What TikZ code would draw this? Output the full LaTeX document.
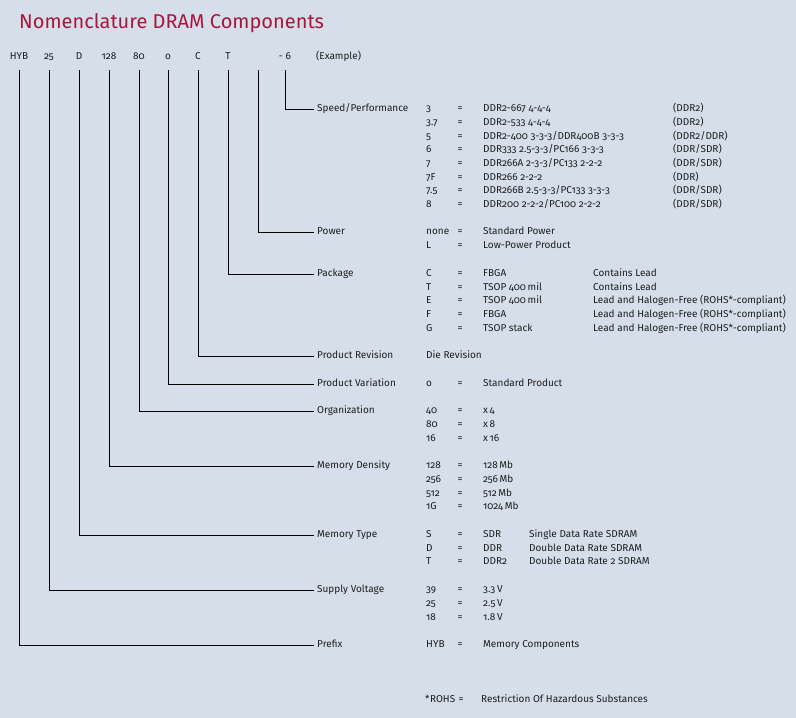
\documentclass[tikz,border=0pt]{standalone}
\usepackage{fontspec}
\setmainfont{Fira Sans}[Numbers=OldStyle]
\definecolor{bgc}{HTML}{D6DEEA}
\definecolor{titlec}{HTML}{A8163F}
\definecolor{txtc}{HTML}{1E1E1E}
\tikzset{
  tx/.style={anchor=west, inner sep=0pt, text height=7pt, text depth=3pt, font=\fontsize{10}{12}\selectfont, text=txtc},
  eq/.style={anchor=center, inner sep=0pt, text height=7pt, text depth=3pt, font=\fontsize{10}{12}\selectfont, text=txtc},
  lbl/.style={tx, inner xsep=3pt},
  code/.style={anchor=center, inner sep=0pt, text height=7pt, text depth=3pt, font=\fontsize{10}{12}\selectfont, text=txtc},
  conn/.style={draw=black, line width=0.9pt, shorten <=8pt}
}
\begin{document}
\begin{tikzpicture}[x=1pt,y=-1pt]
\path[fill=bgc,use as bounding box] (0,0) rectangle (796,718);
\node[anchor=base west, inner sep=0pt, font=\fontsize{20}{24}\selectfont, text=titlec] (title) at (19,28) {Nomenclature DRAM Components};
% example code
\node[code] (cHYB) at (19,57) {HYB};
\node[code] (c25) at (49,57) {25};
\node[code] (cD) at (79,57) {D};
\node[code] (c128) at (109,57) {128};
\node[code] (c80) at (139,57) {80};
\node[code] (co) at (168,57) {o};
\node[code] (cC) at (198,57) {C};
\node[code] (cT) at (228,57) {T};
\node[code] (cL) at (258,57) {\phantom{T}};
\node[code] (c6) at (285,57) {- 6};
\node[tx] (ex) at (316,57) {(Example)};
% labels
\node[lbl] (speed) at (314,109) {Speed/Performance};
\node[lbl] (power) at (314,232) {Power};
\node[lbl] (pack) at (314,274) {Package};
\node[lbl] (prev) at (314,356) {Product Revision};
\node[lbl] (pvar) at (314,384) {Product Variation};
\node[lbl] (org) at (314,411) {Organization};
\node[lbl] (dens) at (314,466) {Memory Density};
\node[lbl] (mtype) at (314,535) {Memory Type};
\node[lbl] (volt) at (314,590) {Supply Voltage};
\node[lbl] (prefix) at (314,645) {Prefix};
% connectors
\draw[conn] (c6) |- (speed);
\draw[conn] (cL) |- (power);
\draw[conn] (cT) |- (pack);
\draw[conn] (cC) |- (prev);
\draw[conn] (co) |- (pvar);
\draw[conn] (c80) |- (org);
\draw[conn] (c128) |- (dens);
\draw[conn] (cD) |- (mtype);
\draw[conn] (c25) |- (volt);
\draw[conn] (cHYB) |- (prefix);
% speed
\node[tx] (s1a) at (426,109) {3};   \node[eq] (s1b) at (460,109) {=}; \node[tx] (s1c) at (483,109) {DDR2-667 4-4-4}; \node[tx] (s1d) at (673,109) {(DDR2)};
\node[tx] (s2a) at (426,123) {3.7}; \node[eq] (s2b) at (460,123) {=}; \node[tx] (s2c) at (483,123) {DDR2-533 4-4-4}; \node[tx] (s2d) at (673,123) {(DDR2)};
\node[tx] (s3a) at (426,137) {5};   \node[eq] (s3b) at (460,137) {=}; \node[tx] (s3c) at (483,137) {DDR2-400 3-3-3/DDR400B 3-3-3}; \node[tx] (s3d) at (673,137) {(DDR2/DDR)};
\node[tx] (s4a) at (426,150) {6};   \node[eq] (s4b) at (460,150) {=}; \node[tx] (s4c) at (483,150) {DDR333 2.5-3-3/PC166 3-3-3}; \node[tx] (s4d) at (673,150) {(DDR/SDR)};
\node[tx] (s5a) at (426,164) {7};   \node[eq] (s5b) at (460,164) {=}; \node[tx] (s5c) at (483,164) {DDR266A 2-3-3/PC133 2-2-2}; \node[tx] (s5d) at (673,164) {(DDR/SDR)};
\node[tx] (s6a) at (426,178) {7F};  \node[eq] (s6b) at (460,178) {=}; \node[tx] (s6c) at (483,178) {DDR266 2-2-2}; \node[tx] (s6d) at (673,178) {(DDR)};
\node[tx] (s7a) at (426,191) {7.5}; \node[eq] (s7b) at (460,191) {=}; \node[tx] (s7c) at (483,191) {DDR266B 2.5-3-3/PC133 3-3-3}; \node[tx] (s7d) at (673,191) {(DDR/SDR)};
\node[tx] (s8a) at (426,205) {8};   \node[eq] (s8b) at (460,205) {=}; \node[tx] (s8c) at (483,205) {DDR200 2-2-2/PC100 2-2-2}; \node[tx] (s8d) at (673,205) {(DDR/SDR)};
% power
\node[tx] (p1a) at (426,232) {none}; \node[eq] (p1b) at (460,232) {=}; \node[tx] (p1c) at (483,232) {Standard Power};
\node[tx] (p2a) at (426,246) {L};    \node[eq] (p2b) at (460,246) {=}; \node[tx] (p2c) at (483,246) {Low-Power Product};
% package
\node[tx] (k1a) at (426,274) {C}; \node[eq] (k1b) at (460,274) {=}; \node[tx] (k1c) at (483,274) {FBGA}; \node[tx] (k1d) at (593,274) {Contains Lead};
\node[tx] (k2a) at (426,288) {T}; \node[eq] (k2b) at (460,288) {=}; \node[tx] (k2c) at (483,288) {TSOP 400\,mil}; \node[tx] (k2d) at (593,288) {Contains Lead};
\node[tx] (k3a) at (426,301) {E}; \node[eq] (k3b) at (460,301) {=}; \node[tx] (k3c) at (483,301) {TSOP 400\,mil}; \node[tx] (k3d) at (593,301) {Lead and Halogen-Free (ROHS*-compliant)};
\node[tx] (k4a) at (426,315) {F}; \node[eq] (k4b) at (460,315) {=}; \node[tx] (k4c) at (483,315) {FBGA}; \node[tx] (k4d) at (593,315) {Lead and Halogen-Free (ROHS*-compliant)};
\node[tx] (k5a) at (426,329) {G}; \node[eq] (k5b) at (460,329) {=}; \node[tx] (k5c) at (483,329) {TSOP stack}; \node[tx] (k5d) at (593,329) {Lead and Halogen-Free (ROHS*-compliant)};
% revision / variation
\node[tx] (r1) at (426,356) {Die Revision};
\node[tx] (v1a) at (426,384) {o}; \node[eq] (v1b) at (460,384) {=}; \node[tx] (v1c) at (483,384) {Standard Product};
% organization
\node[tx] (o1a) at (426,411) {40}; \node[eq] (o1b) at (460,411) {=}; \node[tx] (o1c) at (483,411) {x\,4};
\node[tx] (o2a) at (426,425) {80}; \node[eq] (o2b) at (460,425) {=}; \node[tx] (o2c) at (483,425) {x\,8};
\node[tx] (o3a) at (426,439) {16}; \node[eq] (o3b) at (460,439) {=}; \node[tx] (o3c) at (483,439) {x\,16};
% density
\node[tx] (d1a) at (426,466) {128}; \node[eq] (d1b) at (460,466) {=}; \node[tx] (d1c) at (483,466) {128\,Mb};
\node[tx] (d2a) at (426,480) {256}; \node[eq] (d2b) at (460,480) {=}; \node[tx] (d2c) at (483,480) {256\,Mb};
\node[tx] (d3a) at (426,494) {512}; \node[eq] (d3b) at (460,494) {=}; \node[tx] (d3c) at (483,494) {512\,Mb};
\node[tx] (d4a) at (426,507) {1G};  \node[eq] (d4b) at (460,507) {=}; \node[tx] (d4c) at (483,507) {1024\,Mb};
% memory type
\node[tx] (m1a) at (426,535) {S}; \node[eq] (m1b) at (460,535) {=}; \node[tx] (m1c) at (483,535) {SDR}; \node[tx] (m1d) at (529,535) {Single Data Rate SDRAM};
\node[tx] (m2a) at (426,549) {D}; \node[eq] (m2b) at (460,549) {=}; \node[tx] (m2c) at (483,549) {DDR}; \node[tx] (m2d) at (529,549) {Double Data Rate SDRAM};
\node[tx] (m3a) at (426,562) {T}; \node[eq] (m3b) at (460,562) {=}; \node[tx] (m3c) at (483,562) {DDR2}; \node[tx] (m3d) at (529,562) {Double Data Rate 2 SDRAM};
% voltage
\node[tx] (u1a) at (426,590) {39}; \node[eq] (u1b) at (460,590) {=}; \node[tx] (u1c) at (483,590) {3.3\,V};
\node[tx] (u2a) at (426,604) {25}; \node[eq] (u2b) at (460,604) {=}; \node[tx] (u2c) at (483,604) {2.5\,V};
\node[tx] (u3a) at (426,618) {18}; \node[eq] (u3b) at (460,618) {=}; \node[tx] (u3c) at (483,618) {1.8\,V};
% prefix
\node[tx] (h1a) at (426,645) {HYB}; \node[eq] (h1b) at (460,645) {=}; \node[tx] (h1c) at (483,645) {Memory Components};
% footnote
\node[tx] (f1a) at (425,700) {*\kern0.5pt ROHS}; \node[eq] (f1b) at (461,700) {=}; \node[tx] (f1c) at (481,700) {Restriction Of Hazardous Substances};
\end{tikzpicture}
\end{document}
